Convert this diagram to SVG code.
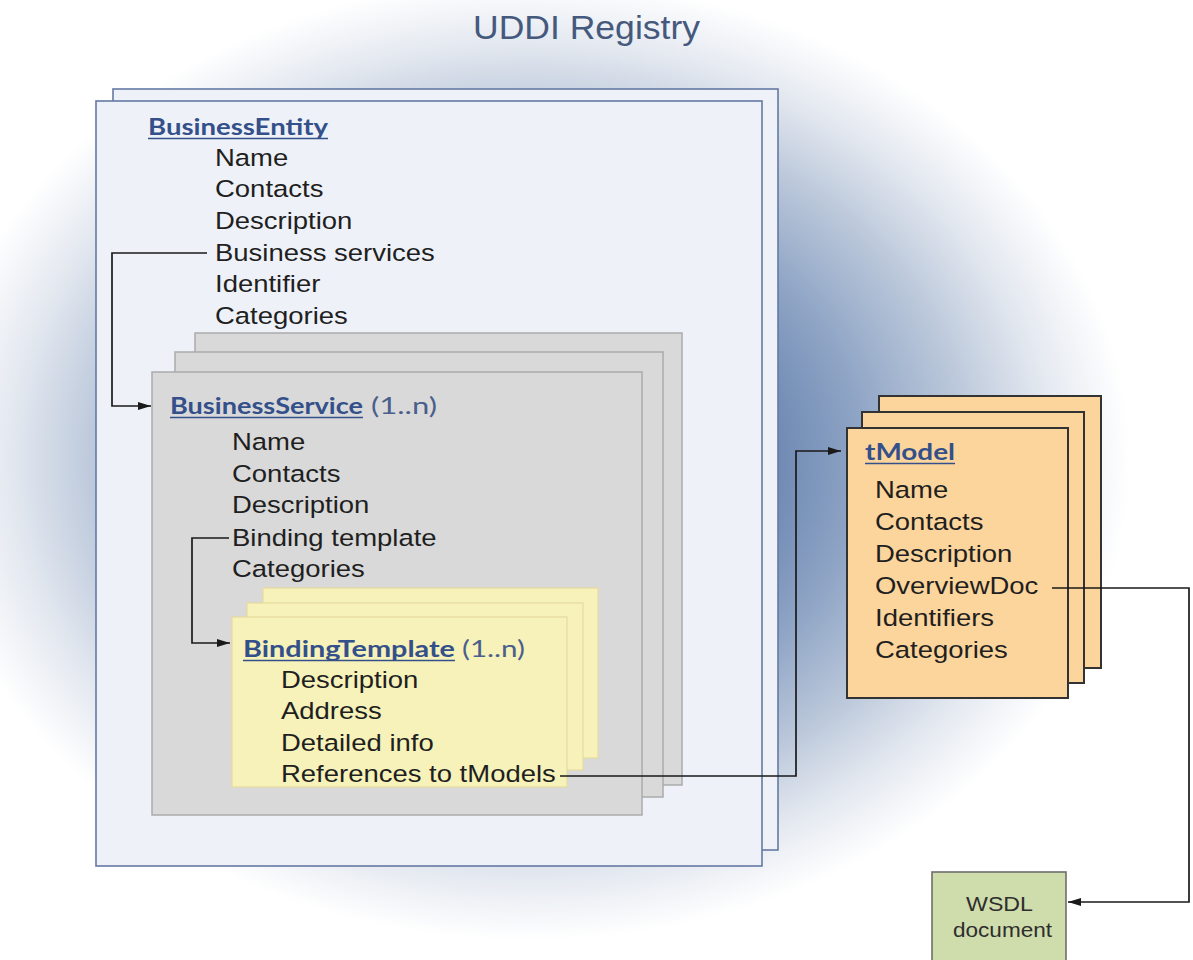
<svg xmlns="http://www.w3.org/2000/svg" width="1193" height="960" viewBox="0 0 1193 960">
  <defs>
    <radialGradient id="halo" gradientUnits="userSpaceOnUse" cx="530" cy="460" r="600" gradientTransform="translate(530 460) scale(1 0.8) translate(-530 -460)">
      <stop offset="0" stop-color="#4f6e9f"/>
      <stop offset="0.4" stop-color="#6d88b2"/>
      <stop offset="0.55" stop-color="#8ea4c5"/>
      <stop offset="0.72" stop-color="#bac7da"/>
      <stop offset="0.86" stop-color="#e2e7ef"/>
      <stop offset="1" stop-color="#ffffff"/>
    </radialGradient>
    <marker id="arrow" markerUnits="userSpaceOnUse" markerWidth="14" markerHeight="10" refX="13" refY="5" orient="auto">
      <path d="M0,1 L13,5 L0,9 z" fill="#1a1a1a"/>
    </marker>
  </defs>
  <style>
    .item { font-family: "Liberation Sans", Arial, sans-serif; font-size: 24.5px; fill: #1f1f1f; }
    .head { font-family: Lato, "Liberation Sans", sans-serif; font-size: 22.5px; font-weight: bold; fill: #34508a; }
    .mult { font-family: Lato, "Liberation Sans", sans-serif; font-size: 22.5px; fill: #4a5f8c; }
    .uline { stroke: #34508a; stroke-width: 1.5; }
    .entity { fill: #eef2f8; stroke: #6479a3; stroke-width: 1.6; }
    .service { fill: #d9d9d9; stroke: #ababab; stroke-width: 1.5; }
    .binding { fill: #f6f2b9; stroke: #e6da9e; stroke-width: 1.2; }
    .tmodel { fill: #fcd59c; stroke: #333333; stroke-width: 2; }
    .wsdl { fill: #cfdcab; stroke: #6e6e6e; stroke-width: 1.6; }
    .wire { fill: none; stroke: #1a1a1a; stroke-width: 1.7; }
    .title { font-family: "Liberation Sans", Arial, sans-serif; font-size: 33px; fill: #45597d; }
    .doc { font-family: "Liberation Sans", Arial, sans-serif; font-size: 21px; fill: #2e2e2e; }
  </style>

  <!-- backdrop -->
  <rect x="0" y="0" width="1193" height="960" fill="#ffffff"/>
  <rect x="0" y="0" width="1193" height="960" fill="url(#halo)"/>

  <text class="title" x="473" y="39" textLength="227" lengthAdjust="spacingAndGlyphs">UDDI Registry</text>

  <!-- BusinessEntity -->
  <g id="business-entity">
    <rect class="entity" x="113" y="89" width="665" height="761"/>
    <rect class="entity" x="96" y="101" width="666" height="765"/>
    <text class="head" x="148" y="135" textLength="180" lengthAdjust="spacingAndGlyphs">BusinessEntity</text>
    <line class="uline" x1="148" y1="138.5" x2="328" y2="138.5"/>
    <g transform="translate(215 0) scale(1.122 1)">
      <text class="item" x="0" y="166">Name</text>
      <text class="item" x="0" y="197.5">Contacts</text>
      <text class="item" x="0" y="229">Description</text>
      <text class="item" x="0" y="261">Business services</text>
      <text class="item" x="0" y="292.5">Identifier</text>
      <text class="item" x="0" y="324">Categories</text>
    </g>
  </g>

  <!-- BusinessService stack -->
  <g id="business-service">
    <rect class="service" x="195" y="333" width="487" height="452"/>
    <rect class="service" x="175" y="352" width="488" height="445"/>
    <rect class="service" x="152" y="372" width="490" height="443"/>
    <text class="head" x="170" y="414" textLength="193" lengthAdjust="spacingAndGlyphs">BusinessService</text>
    <line class="uline" x1="170" y1="417.5" x2="363" y2="417.5"/>
    <text class="mult" x="371" y="414" textLength="66" lengthAdjust="spacingAndGlyphs">(1..n)</text>
    <g transform="translate(232 0) scale(1.122 1)">
      <text class="item" x="0" y="450">Name</text>
      <text class="item" x="0" y="482">Contacts</text>
      <text class="item" x="0" y="513.5">Description</text>
      <text class="item" x="0" y="546">Binding template</text>
      <text class="item" x="0" y="577.5">Categories</text>
    </g>
  </g>

  <!-- BindingTemplate stack -->
  <g id="binding-template">
    <rect class="binding" x="263" y="588" width="335" height="170"/>
    <rect class="binding" x="247" y="603" width="336" height="167"/>
    <rect class="binding" x="232" y="617" width="335" height="170"/>
    <text class="head" x="243" y="657" textLength="212" lengthAdjust="spacingAndGlyphs">BindingTemplate</text>
    <line class="uline" x1="243" y1="660.5" x2="455" y2="660.5"/>
    <text class="mult" x="462" y="657" textLength="63" lengthAdjust="spacingAndGlyphs">(1..n)</text>
    <g transform="translate(281 0) scale(1.122 1)">
      <text class="item" x="0" y="688">Description</text>
      <text class="item" x="0" y="719">Address</text>
      <text class="item" x="0" y="751">Detailed info</text>
      <text class="item" x="0" y="782">References to tModels</text>
    </g>
  </g>

  <!-- tModel stack -->
  <g id="tmodel">
    <rect class="tmodel" x="879" y="396" width="222" height="272"/>
    <rect class="tmodel" x="862" y="412" width="222" height="271"/>
    <rect class="tmodel" x="847" y="428" width="221" height="270"/>
    <text class="head" x="865" y="460" textLength="90" lengthAdjust="spacingAndGlyphs">tModel</text>
    <line class="uline" x1="865" y1="463.5" x2="955" y2="463.5"/>
    <g transform="translate(875 0) scale(1.122 1)">
      <text class="item" x="0" y="498">Name</text>
      <text class="item" x="0" y="530">Contacts</text>
      <text class="item" x="0" y="562">Description</text>
      <text class="item" x="0" y="594">OverviewDoc</text>
      <text class="item" x="0" y="626">Identifiers</text>
      <text class="item" x="0" y="658">Categories</text>
    </g>
  </g>

  <!-- WSDL document -->
  <g id="wsdl">
    <rect class="wsdl" x="932" y="872" width="134" height="100"/>
    <text class="doc" x="966" y="911" textLength="67" lengthAdjust="spacingAndGlyphs">WSDL</text>
    <text class="doc" x="953" y="937" textLength="99" lengthAdjust="spacingAndGlyphs">document</text>
  </g>

  <!-- connectors -->
  <g id="connectors">
    <path class="wire" d="M207,253 H112 V406 H151" marker-end="url(#arrow)"/>
    <path class="wire" d="M229,538 H192 V643 H230" marker-end="url(#arrow)"/>
    <path class="wire" d="M560,776 H796 V451 H841" marker-end="url(#arrow)"/>
    <path class="wire" d="M1052,588 H1189 V902 H1068" marker-end="url(#arrow)"/>
  </g>
</svg>
